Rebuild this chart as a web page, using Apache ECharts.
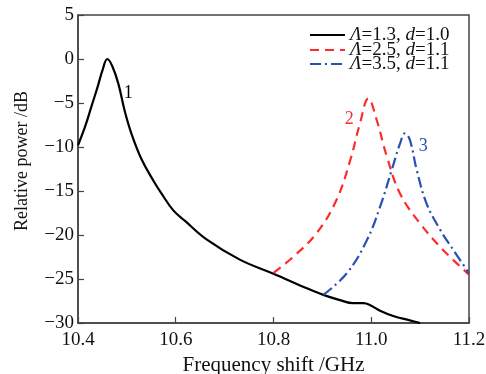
<!DOCTYPE html>
<html>
<head>
<meta charset="utf-8">
<script src="https://cdn.jsdelivr.net/npm/echarts@6/dist/echarts.min.js"></script>
<style>
  html, body { margin: 0; padding: 0; background: #fff; }
  #chart { width: 486px; height: 374px; }
</style>
</head>
<body>
<div id="chart"></div>
<script>
// curve 1: Λ=1.3, d=1.0
var freq1 = [10.40, 10.415, 10.428, 10.44, 10.45, 10.46, 10.47, 10.4825, 10.496, 10.51, 10.53, 10.554, 10.571, 10.595, 10.619, 10.663, 10.731, 10.80, 10.868, 10.902, 10.936, 10.963, 10.984, 10.997, 11.018, 11.045, 11.079, 11.10];
var power1 = [-9.8, -7.6, -5.3, -3.2, -1.3, 0, -0.8, -2.8, -6.0, -8.6, -11.4, -13.8, -15.3, -17.2, -18.4, -20.5, -22.8, -24.4, -26.05, -26.8, -27.4, -27.75, -27.75, -27.95, -28.6, -29.2, -29.7, -30];
// curve 2: Λ=2.5, d=1.1
var freq2 = [10.80, 10.84, 10.888, 10.929, 10.957, 10.977, 10.994, 11.011, 11.032, 11.059, 11.10, 11.147, 11.20];
var power2 = [-24.3, -22.5, -19.8, -16.0, -11.5, -7.3, -4.5, -6.9, -11.1, -15.3, -18.7, -21.7, -24.5];
// curve 3: Λ=3.5, d=1.1
var freq3 = [10.902, 10.95, 10.991, 11.018, 11.042, 11.059, 11.069, 11.079, 11.093, 11.113, 11.141, 11.168, 11.20];
var power3 = [-26.8, -24.35, -20.6, -16.8, -12.6, -9.6, -8.45, -9.2, -12.6, -16.4, -19.4, -21.7, -24.35];

var names = ['Λ=1.3, d=1.0', 'Λ=2.5, d=1.1', 'Λ=3.5, d=1.1'];
var colors = ['#000000', '#ff2b2b', '#2b50b4'];
var tags = ['1', '2', '3'];
var tagPos = [[10.503, -3.9], [10.955, -6.85], [11.1065, -9.97]];

var serif = 'Liberation Serif';

function pairs(xs, ys) {
  var out = [];
  for (var i = 0; i < xs.length; i++) out.push([xs[i], ys[i]]);
  return out;
}

var chart = echarts.init(document.getElementById('chart'), null, {renderer: 'canvas'});

var dashes = ['solid', [9, 6], [11, 4, 2, 4]];
var data = [pairs(freq1, power1), pairs(freq2, power2), pairs(freq3, power3)];

var series = [];
for (var k = 0; k < 3; k++) {
  series.push({
    name: names[k],
    type: 'line',
    data: data[k],
    showSymbol: false,
    symbol: 'none',
    smooth: 0.4,
    lineStyle: { color: colors[k], width: 2.2, type: dashes[k] },
    itemStyle: { color: colors[k] },
    markPoint: {
      symbol: 'circle',
      symbolSize: 0,
      data: [{ coord: tagPos[k], value: tags[k] }],
      label: {
        show: true,
        position: 'inside',
        formatter: tags[k],
        color: colors[k],
        fontFamily: serif,
        fontSize: 18
      }
    }
  });
}

// one legend per row so the rows can sit tighter than the font size
var legendTops = [20, 35, 49];
var legends = [];
for (var j = 0; j < 3; j++) {
  legends.push({
    orient: 'vertical',
    left: 304,
    top: legendTops[j],
    itemWidth: 35,
    itemHeight: 10,
    data: [names[j]],
    selectedMode: false,
    itemStyle: { color: 'rgba(0,0,0,0)', borderWidth: 0, opacity: 0 },
    formatter: function (n) {
      return n.replace('Λ', '{i|Λ}').replace('d=', '{i|d}=');
    },
    textStyle: {
      fontFamily: serif,
      fontSize: 19,
      lineHeight: 20,
      color: '#111',
      rich: {
        i: { fontFamily: serif, fontStyle: 'italic', fontSize: 19, lineHeight: 20, color: '#111' }
      }
    }
  });
}

var option = {
  animation: false,
  grid: {
    left: 78, right: 17, top: 15, bottom: 51,
    outerBoundsMode: 'none',
    show: true, borderColor: '#444', borderWidth: 1.5
  },
  legend: legends,
  xAxis: {
    type: 'value',
    min: 10.4,
    max: 11.2,
    interval: 0.2,
    name: 'Frequency shift /GHz',
    nameLocation: 'middle',
    nameGap: 29,
    nameTextStyle: { fontFamily: serif, fontSize: 21, color: '#111' },
    axisLine: { onZero: false, lineStyle: { color: '#444', width: 1.5 } },
    axisTick: { inside: true, length: 6, lineStyle: { color: '#444', width: 1.2 } },
    axisLabel: {
      margin: 8,
      fontFamily: serif,
      fontSize: 19,
      color: '#111',
      formatter: function (v) { return v.toFixed(1); }
    },
    splitLine: { show: false }
  },
  yAxis: {
    type: 'value',
    min: -30,
    max: 5,
    interval: 5,
    name: 'Relative power /dB',
    nameLocation: 'middle',
    nameGap: 47,
    nameTextStyle: { fontFamily: serif, fontSize: 18, color: '#111', padding: [0, 0, 0, 16] },
    axisLine: { onZero: false, lineStyle: { color: '#444', width: 1.5 } },
    axisTick: { inside: true, length: 6, lineStyle: { color: '#444', width: 1.2 } },
    axisLabel: {
      margin: 4,
      fontFamily: serif,
      fontSize: 19,
      color: '#111',
      formatter: function (v) { return v < 0 ? '\u2212' + Math.abs(v) : String(v); }
    },
    splitLine: { show: false }
  },
  series: series
};

chart.setOption(option);
</script>
</body>
</html>
